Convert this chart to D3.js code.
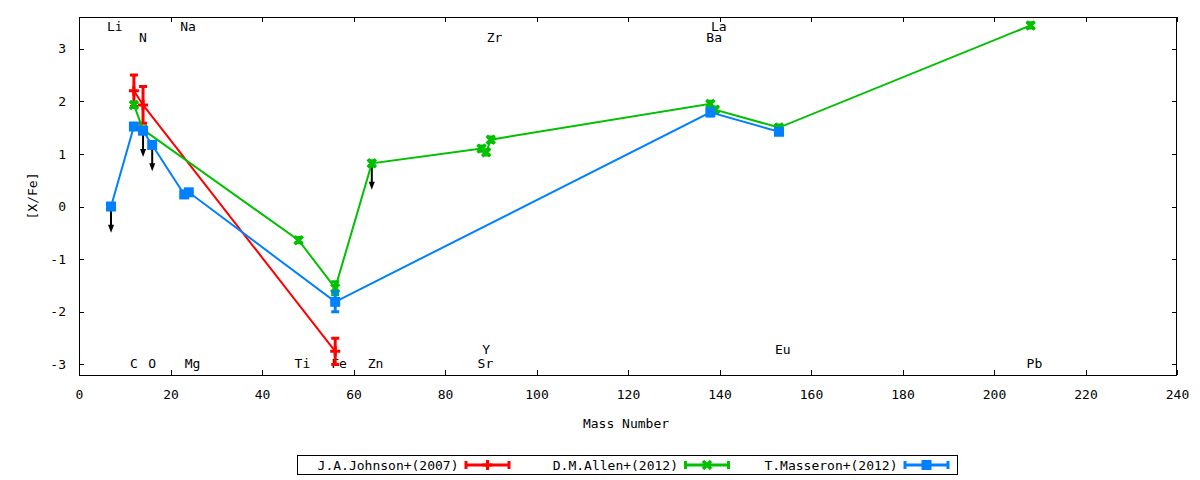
<!DOCTYPE html>
<html>
<head>
<meta charset="utf-8">
<script src="https://cdn.jsdelivr.net/npm/d3@7"></script>
<style>
    body { margin: 0; background: #fff; }
    svg { display: block; }
    text { font-family: "DejaVu Sans Mono", monospace; font-size: 13px; fill: #000; }
</style>
</head>
<body>
<svg id="chart" width="1200" height="480"></svg>
<script>
// data (mass number, [X/Fe], error)
var johnsonMass = [12, 14, 56];
var johnsonValue = [2.20, 1.93, -2.75];
var johnsonErr = [0.30, 0.35, 0.25];

var allenMass = [12, 14, 48, 56, 64, 88, 89, 90, 138, 139, 153, 208];
var allenValue = [1.93, 1.46, -0.64, -1.55, 0.82, 1.10, 1.03, 1.27, 1.95, 1.84, 1.50, 3.44];
var allenErr = [0.05, 0.05, 0.05, 0.12, 0.05, 0.05, 0.05, 0.05, 0.05, 0.05, 0.05, 0.05];

var masseronMass = [7, 12, 14, 16, 23, 24, 56, 138, 153];
var masseronValue = [0.00, 1.52, 1.44, 1.17, 0.23, 0.27, -1.81, 1.79, 1.42];
var masseronErr = [0, 0, 0, 0, 0, 0, 0.19, 0.07, 0.05];

// upper limits (arrows pointing down)
var limitMass = [7, 14, 16, 64];
var limitValue = [0.00, 1.44, 1.17, 0.82];
var limitLength = 0.5;

// element labels
var elementNames = ["Li", "N", "Na", "Zr", "La", "Ba", "C", "O", "Mg", "Ti", "Fe", "Zn", "Y", "Sr", "Eu", "Pb"];
var elementMass = [7, 14, 23, 90, 139, 138, 12, 16, 24, 48, 56, 64, 89, 88, 153, 208];
var elementY = [3.42, 3.22, 3.42, 3.22, 3.42, 3.22, -2.97, -2.97, -2.97, -2.97, -2.97, -2.97, -2.71, -2.97, -2.71, -2.97];

var seriesNames = ["J.A.Johnson+(2007)", "D.M.Allen+(2012)", "T.Masseron+(2012)"];

var xTicks = [0, 20, 40, 60, 80, 100, 120, 140, 160, 180, 200, 220, 240];
var yTicks = [-3, -2, -1, 0, 1, 2, 3];

var options = {
    left: 79, right: 1177, top: 17, bottom: 375,
    colors: ["#ff0000", "#00c000", "#0080ff"],
    markers: ["plus", "cross", "square"],
    tick: 5
};

function zipSeries(mass, value, err) {
    return mass.map((m, i) => ({ mass: m, value: value[i], err: err[i] }));
}

var series = [
    zipSeries(johnsonMass, johnsonValue, johnsonErr),
    zipSeries(allenMass, allenValue, allenErr),
    zipSeries(masseronMass, masseronValue, masseronErr)
];

var svg = d3.select("#chart");

var x = d3.scaleLinear().domain([0, 240]).range([options.left, options.right]);
var y = d3.scaleLinear().domain([-3.2, 3.6]).range([options.bottom, options.top]);

// axes (gnuplot style: ticks inside, mirrored)
function styleAxis(g) {
    g.select(".domain").remove();
    g.selectAll("line").attr("stroke", "#000").attr("shape-rendering", "crispEdges");
    g.selectAll("text").attr("font-family", null).attr("font-size", null).attr("fill", "#000");
    g.attr("font-family", null).attr("font-size", null);
}

svg.append("g")
    .attr("transform", "translate(0," + options.bottom + ")")
    .call(d3.axisBottom(x).tickValues(xTicks).tickSize(-options.tick).tickPadding(15).tickFormat(d3.format("d")))
    .call(styleAxis);

svg.append("g")
    .attr("transform", "translate(0," + options.top + ")")
    .call(d3.axisTop(x).tickValues(xTicks).tickSize(-options.tick).tickFormat(""))
    .call(styleAxis);

svg.append("g")
    .attr("transform", "translate(" + options.left + ",0)")
    .call(d3.axisLeft(y).tickValues(yTicks).tickSize(-options.tick).tickPadding(13).tickFormat(d => d < 0 ? "-" + Math.abs(d) : "" + d))
    .call(styleAxis);

svg.append("g")
    .attr("transform", "translate(" + options.right + ",0)")
    .call(d3.axisRight(y).tickValues(yTicks).tickSize(-options.tick).tickFormat(""))
    .call(styleAxis);

// frame
svg.append("rect")
    .attr("x", options.left + 0.5)
    .attr("y", options.top + 0.5)
    .attr("width", options.right - options.left - 1)
    .attr("height", options.bottom - options.top)
    .attr("fill", "none")
    .attr("stroke", "#000")
    .attr("shape-rendering", "crispEdges");

// axis labels
svg.append("text")
    .attr("x", 626)
    .attr("y", 428)
    .attr("text-anchor", "middle")
    .text("Mass Number");

svg.append("text")
    .attr("transform", "translate(37,196) rotate(-90)")
    .attr("text-anchor", "middle")
    .text("[X/Fe]");

// element labels
svg.append("g").selectAll("text")
    .data(elementNames)
    .join("text")
    .attr("x", (d, i) => x(elementMass[i]) - 4)
    .attr("y", (d, i) => y(elementY[i]))
    .attr("dy", "0.36em")
    .text(d => d);

// upper limit arrows
var arrows = svg.append("g");
limitMass.forEach((m, i) => {
    var px = x(m);
    var y0 = y(limitValue[i]);
    var y1 = y(limitValue[i] - limitLength);
    arrows.append("line")
        .attr("x1", px).attr("x2", px)
        .attr("y1", y0).attr("y2", y1 - 4)
        .attr("stroke", "#000")
        .attr("stroke-width", 2);
    arrows.append("path")
        .attr("d", "M" + (px - 3) + "," + (y1 - 8) + "L" + (px + 3) + "," + (y1 - 8) + "L" + px + "," + y1 + "Z")
        .attr("fill", "#000");
});

// markers
function drawMarker(g, type, cx, cy, color) {
    if (type == "plus") {
        g.append("path")
            .attr("d", "M" + (cx - 5) + "," + cy + "H" + (cx + 5) + "M" + cx + "," + (cy - 5) + "V" + (cy + 5))
            .attr("stroke", color).attr("stroke-width", 3);
    } else if (type == "cross") {
        g.append("path")
            .attr("d", "M" + (cx - 4) + "," + (cy - 4) + "L" + (cx + 4) + "," + (cy + 4) +
                "M" + (cx - 4) + "," + (cy + 4) + "L" + (cx + 4) + "," + (cy - 4))
            .attr("stroke", color).attr("stroke-width", 3.5);
    } else {
        g.append("rect")
            .attr("x", cx - 5).attr("y", cy - 5)
            .attr("width", 10).attr("height", 10)
            .attr("fill", color);
    }
}

// series: lines, error bars, points
var line = d3.line().x(d => x(d.mass)).y(d => y(d.value));

series.forEach((data, s) => {
    var color = options.colors[s];
    var g = svg.append("g");

    g.append("path")
        .attr("d", line(data))
        .attr("fill", "none")
        .attr("stroke", color)
        .attr("stroke-width", 2);

    data.forEach(d => {
        var px = x(d.mass);
        if (d.err > 0) {
            var yTop = y(d.value + d.err);
            var yBot = y(d.value - d.err);
            g.append("path")
                .attr("d", "M" + px + "," + yTop + "V" + yBot +
                    "M" + (px - 4) + "," + yTop + "H" + (px + 4) +
                    "M" + (px - 4) + "," + yBot + "H" + (px + 4))
                .attr("fill", "none")
                .attr("stroke", color)
                .attr("stroke-width", 3);
        }
        drawMarker(g, options.markers[s], px, y(d.value), color);
    });
});

// legend
var legend = svg.append("g");
legend.append("rect")
    .attr("x", 297.5).attr("y", 455.5)
    .attr("width", 660).attr("height", 19)
    .attr("fill", "none")
    .attr("stroke", "#000")
    .attr("shape-rendering", "crispEdges");

seriesNames.forEach((name, i) => {
    var base = 297 + i * 219.5;
    var color = options.colors[i];
    var ly = 465;
    legend.append("text")
        .attr("x", base + 161.5)
        .attr("y", ly)
        .attr("dy", "0.36em")
        .attr("text-anchor", "end")
        .text(name);
    var x0 = base + 169, x1 = base + 212;
    legend.append("path")
        .attr("d", "M" + x0 + "," + ly + "H" + x1 +
            "M" + x0 + "," + (ly - 4) + "V" + (ly + 4) +
            "M" + x1 + "," + (ly - 4) + "V" + (ly + 4))
        .attr("fill", "none")
        .attr("stroke", color)
        .attr("stroke-width", 3);
    drawMarker(legend, options.markers[i], (x0 + x1) / 2, ly, color);
});
</script>
</body>
</html>
